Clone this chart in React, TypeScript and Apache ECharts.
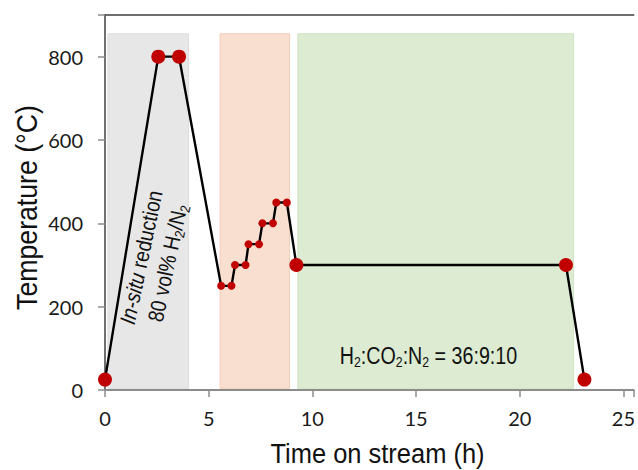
import React, { useEffect, useRef } from "react";
import * as echarts from "echarts";

// Set points of the temperature programme (large markers)
const keyTimes = [0, 2.57, 3.57, 9.23, 22.23, 23.12];
const keyTemps = [25, 800, 800, 300, 300, 25];
// Stepwise reduction-temperature holds (small markers)
const stepTimes = [5.6, 6.1, 6.27, 6.78, 6.92, 7.43, 7.59, 8.1, 8.26, 8.77];
const stepTemps = [250, 250, 300, 300, 350, 350, 400, 400, 450, 450];
// Shaded phases
const phaseStart = [0.14, 5.55, 9.3];
const phaseEnd = [4.03, 8.9, 22.6];
const phaseLow = 4;
const phaseHigh = 855;
// Axes
const xMin = 0;
const xMax = 25.5;
const xStep = 5;
const yMin = 0;
const yMax = 900;
const yStep = 200;
const xTitle = "Time on stream (h)";
const yTitle = "Temperature (°C)";
// Annotation anchors (data coordinates)
const reductionLabelAt = [2.36, 312];
const gasLabelAt = [15.6, 82];

const phaseFill = ["#e7e7e7", "#f9dfcf", "#dcebd2"];
const phaseBorder = ["#dddddd", "#f3cdb6", "#cfe3c3"];

const RED = "#c00000";
const SANS = "'Liberation Sans', Arial, sans-serif";
const TICKFONT = "Lato, 'Open Sans', sans-serif";

export default function App() {
  const ref = useRef<HTMLDivElement>(null);
  useEffect(() => {
    if (!ref.current) return;
    const chart = echarts.init(ref.current, undefined, { renderer: "svg" });
    const profile = keyTimes
      .map((t, i) => [t, keyTemps[i]])
      .concat(stepTimes.map((t, i) => [t, stepTemps[i]]))
      .sort((a, b) => a[0] - b[0]);

    const fmt = (step: number) => (v: number) =>
      Math.abs(v / step - Math.round(v / step)) < 1e-6 ? String(v) : "";

    chart.setOption({
      animation: false,
      grid: { left: 105, right: 0, top: 15, bottom: 80 },
      xAxis: [
        {
          type: "value",
          min: xMin,
          max: xMax,
          interval: xStep,
          position: "bottom",
          axisLine: { show: true, onZero: false, lineStyle: { color: "#8c8c8c", width: 2 } },
          axisTick: { show: true, length: 7, lineStyle: { color: "#8c8c8c", width: 1.5 } },
          axisLabel: { fontFamily: TICKFONT, fontSize: 20, color: "#1a1a1a", margin: 18, formatter: fmt(xStep) },
          splitLine: { show: false },
        },
        {
          type: "value",
          min: xMin,
          max: xMax,
          position: "top",
          axisLine: { show: true, onZero: false, lineStyle: { color: "#404040", width: 1.5 } },
          axisTick: { show: false },
          axisLabel: { show: false },
          splitLine: { show: false },
        },
      ],
      yAxis: {
        type: "value",
        min: yMin,
        max: yMax,
        interval: yStep,
        axisLine: { show: true, onZero: false, lineStyle: { color: "#404040", width: 1.5 } },
        axisTick: { show: true, length: 7, lineStyle: { color: "#8c8c8c", width: 1.5 } },
        axisLabel: { fontFamily: TICKFONT, fontSize: 20, color: "#1a1a1a", margin: 22, formatter: fmt(yStep) },
        splitLine: { show: false },
      },
      series: [
        {
          type: "line",
          data: profile,
          showSymbol: false,
          lineStyle: { color: "#000", width: 2.4 },
          z: 2,
          silent: true,
          markArea: {
            silent: true,
            data: phaseStart.map((s, i) => [
              {
                xAxis: s,
                yAxis: phaseLow,
                itemStyle: { color: phaseFill[i], borderColor: phaseBorder[i], borderWidth: 1 },
              },
              { xAxis: phaseEnd[i], yAxis: phaseHigh },
            ]),
          },
        },
        {
          type: "scatter",
          data: stepTimes.map((t, i) => [t, stepTemps[i]]),
          symbolSize: 8,
          itemStyle: { color: RED, opacity: 1 },
          z: 3,
          silent: true,
        },
        {
          type: "scatter",
          data: keyTimes.map((t, i) => [t, keyTemps[i]]),
          symbolSize: 14,
          itemStyle: { color: RED, opacity: 1 },
          z: 4,
          silent: true,
        },
      ],
    });

    const p1 = chart.convertToPixel({ gridIndex: 0 }, reductionLabelAt) as number[];
    const p2 = chart.convertToPixel({ gridIndex: 0 }, gasLabelAt) as number[];
    chart.setOption({
      graphic: [
        {
          type: "text",
          x: 377.5,
          y: 454,
          scaleX: 0.91,
          z: 10,
          style: { text: xTitle, fontFamily: SANS, fontSize: 28, fill: "#111", align: "center", verticalAlign: "middle" },
        },
        {
          type: "text",
          x: 26,
          y: 207.5,
          rotation: Math.PI / 2,
          scaleX: 0.89,
          z: 10,
          style: { text: yTitle, fontFamily: SANS, fontSize: 30, fill: "#111", align: "center", verticalAlign: "middle" },
        },
        {
          type: "text",
          x: p1[0],
          y: p1[1],
          rotation: (78 * Math.PI) / 180,
          scaleX: 0.87,
          z: 10,
          style: {
            text: "{i|In-situ}{n| reduction}\n{n|80 vol% H}{s|2}{n|/N}{s|2}",
            align: "center",
            verticalAlign: "middle",
            fill: "#111",
            rich: {
              i: { fontFamily: SANS, fontSize: 22, fontStyle: "italic", fill: "#111", lineHeight: 27 },
              n: { fontFamily: SANS, fontSize: 22, fill: "#111", lineHeight: 27 },
              s: { fontFamily: SANS, fontSize: 14, fill: "#111", lineHeight: 14, verticalAlign: "bottom" },
            },
          },
        },
        {
          type: "text",
          x: p2[0],
          y: p2[1],
          scaleX: 0.82,
          z: 10,
          style: {
            text: "{n|H}{s|2}{n|:CO}{s|2}{n|:N}{s|2}{n| = 36:9:10}",
            align: "center",
            verticalAlign: "middle",
            fill: "#111",
            rich: {
              n: { fontFamily: SANS, fontSize: 24, fill: "#111", lineHeight: 28 },
              s: { fontFamily: SANS, fontSize: 15, fill: "#111", lineHeight: 15, verticalAlign: "bottom" },
            },
          },
        },
      ],
    });

    return () => chart.dispose();
  }, []);
  return (
    <div
      ref={ref}
      style={{ position: "fixed", left: 0, top: 0, width: 638, height: 470, background: "#fff" }}
    />
  );
}
